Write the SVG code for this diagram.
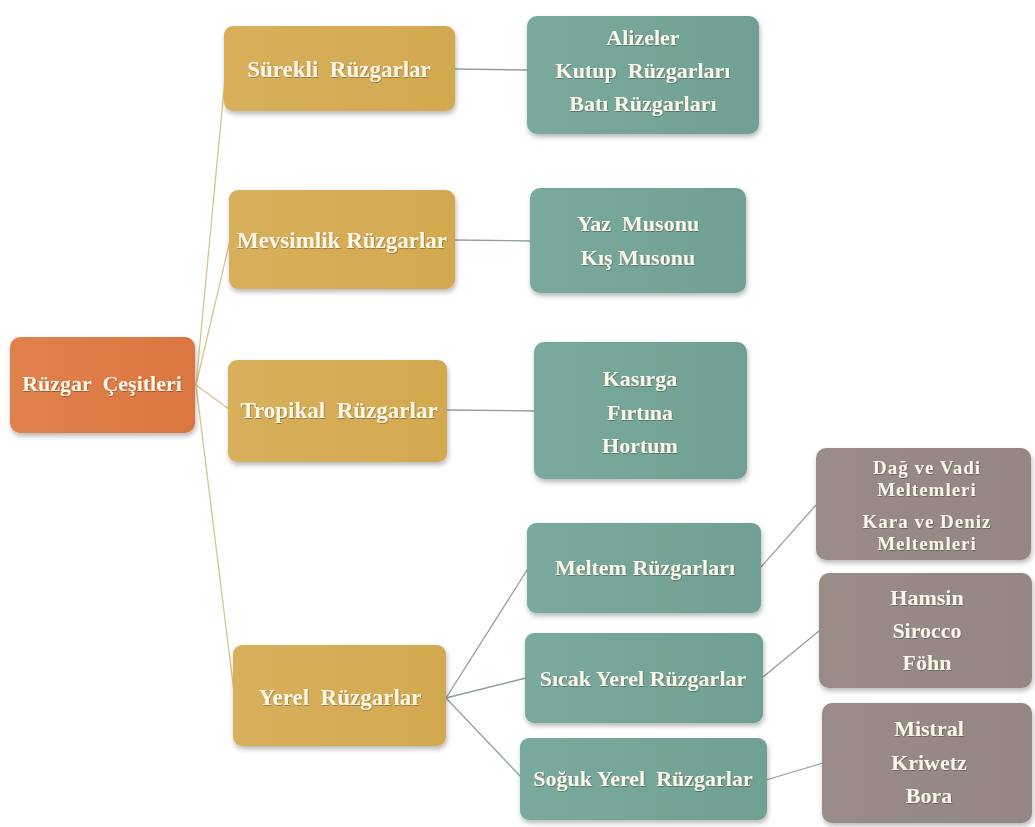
<svg xmlns="http://www.w3.org/2000/svg" width="1035" height="827" viewBox="0 0 1035 827">
<defs>
<filter id="sh" x="-10%" y="-10%" width="125%" height="130%">
<feDropShadow dx="1" dy="3" stdDeviation="2.5" flood-color="#000" flood-opacity="0.28"/>
</filter>
<filter id="ts" x="-5%" y="-20%" width="110%" height="140%">
<feDropShadow dx="0.6" dy="0.8" stdDeviation="0.5" flood-color="#000" flood-opacity="0.35"/>
</filter>
<linearGradient id="gOr" x1="0" y1="0" x2="1" y2="0"><stop offset="0" stop-color="#E0814C"/><stop offset="1" stop-color="#DB7640"/></linearGradient>
<linearGradient id="gGo" x1="0" y1="0" x2="1" y2="0"><stop offset="0" stop-color="#D8B05C"/><stop offset="1" stop-color="#D3A94F"/></linearGradient>
<linearGradient id="gTe" x1="0" y1="0" x2="1" y2="0"><stop offset="0" stop-color="#7AAA9E"/><stop offset="1" stop-color="#70A093"/></linearGradient>
<linearGradient id="gGr" x1="0" y1="0" x2="1" y2="0"><stop offset="0" stop-color="#998C88"/><stop offset="1" stop-color="#938683"/></linearGradient>
</defs>
<style>
.or{fill:url(#gOr);filter:url(#sh)}
.go{fill:url(#gGo);filter:url(#sh)}
.te{fill:url(#gTe);filter:url(#sh)}
.gr{fill:url(#gGr);filter:url(#sh)}
text{font-family:"Liberation Serif","Times New Roman",serif;font-weight:bold;font-size:22px;fill:#FCF6E8;text-anchor:middle;white-space:pre;filter:url(#ts)}
.l1{font-size:23px}
.sm{font-size:19px;letter-spacing:1px}
.cg{stroke:#D8C48C;stroke-width:1.3;fill:none}
.ct{stroke:#8FA09C;stroke-width:1.3;fill:none}
</style>
<rect width="1035" height="827" fill="#FFFFFF"/>
<g id="connectors">
<line class="cg" x1="196" y1="385" x2="226" y2="68"/>
<line class="cg" x1="196" y1="385" x2="230" y2="240"/>
<line class="cg" x1="196" y1="385" x2="229" y2="409"/>
<line class="cg" x1="196" y1="385" x2="235" y2="700"/>
<line class="ct" x1="455" y1="69" x2="528" y2="70"/>
<line class="ct" x1="455" y1="240" x2="531" y2="241"/>
<line class="ct" x1="447" y1="410" x2="535" y2="411"/>
<line class="ct" x1="446" y1="698" x2="529" y2="567"/>
<line class="ct" x1="446" y1="698" x2="526" y2="678"/>
<line class="ct" x1="446" y1="698" x2="522" y2="778"/>
<line class="ct" x1="761" y1="567" x2="816" y2="505"/>
<line class="ct" x1="763" y1="677" x2="819" y2="631"/>
<line class="ct" x1="766" y1="780" x2="823" y2="763"/>
</g>
<g id="root">
<rect class="or" x="10" y="337" width="185" height="96" rx="10"/>
<text x="102" y="391">Rüzgar  Çeşitleri</text>
</g>
<g id="surekli">
<rect class="go" x="224" y="26" width="231" height="85" rx="9"/>
<text class="l1" x="339" y="77">Sürekli  Rüzgarlar</text>
</g>
<g id="mevsimlik">
<rect class="go" x="229" y="190" width="226" height="99" rx="9"/>
<text class="l1" x="342" y="248">Mevsimlik Rüzgarlar</text>
</g>
<g id="tropikal">
<rect class="go" x="228" y="360" width="219" height="102" rx="9"/>
<text class="l1" x="339" y="418">Tropikal  Rüzgarlar</text>
</g>
<g id="yerel">
<rect class="go" x="233" y="645" width="213" height="101" rx="9"/>
<text class="l1" x="340" y="705">Yerel  Rüzgarlar</text>
</g>
<g id="alizeler">
<rect class="te" x="527" y="16" width="232" height="118" rx="10"/>
<text x="643" y="45">Alizeler</text>
<text x="643" y="78">Kutup  Rüzgarları</text>
<text x="643" y="111">Batı Rüzgarları</text>
</g>
<g id="muson">
<rect class="te" x="530" y="188" width="216" height="105" rx="10"/>
<text x="638" y="231">Yaz  Musonu</text>
<text x="638" y="265">Kış Musonu</text>
</g>
<g id="kasirga">
<rect class="te" x="534" y="342" width="213" height="137" rx="10"/>
<text x="640" y="386">Kasırga</text>
<text x="640" y="420">Fırtına</text>
<text x="640" y="453">Hortum</text>
</g>
<g id="meltem">
<rect class="te" x="527" y="523" width="234" height="90" rx="9"/>
<text x="645" y="575">Meltem Rüzgarları</text>
</g>
<g id="sicak">
<rect class="te" x="525" y="633" width="238" height="90" rx="9"/>
<text x="643" y="686">Sıcak Yerel Rüzgarlar</text>
</g>
<g id="soguk">
<rect class="te" x="520" y="738" width="247" height="82" rx="9"/>
<text x="643" y="786">Soğuk Yerel  Rüzgarlar</text>
</g>
<g id="meltemler">
<rect class="gr" x="816" y="448" width="215" height="112" rx="10"/>
<text class="sm" x="927" y="474">Dağ ve Vadi</text>
<text class="sm" x="927" y="496">Meltemleri</text>
<text class="sm" x="927" y="528">Kara ve Deniz</text>
<text class="sm" x="927" y="550">Meltemleri</text>
</g>
<g id="sicaklar">
<rect class="gr" x="819" y="573" width="213" height="115" rx="10"/>
<text x="927" y="605">Hamsin</text>
<text x="927" y="638">Sirocco</text>
<text x="927" y="670">Föhn</text>
</g>
<g id="soguklar">
<rect class="gr" x="822" y="703" width="210" height="120" rx="10"/>
<text x="929" y="736">Mistral</text>
<text x="929" y="770">Kriwetz</text>
<text x="929" y="803">Bora</text>
</g>
</svg>
